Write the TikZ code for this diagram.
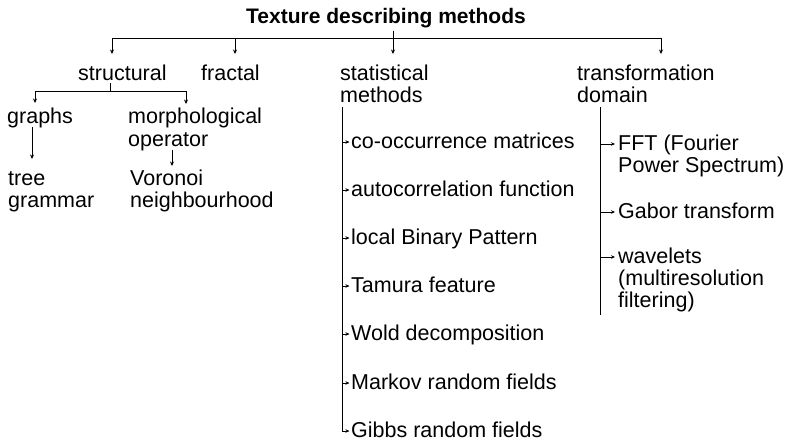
\documentclass[tikz,border=0pt]{standalone}
\usepackage{fontspec}
\setmainfont{Liberation Sans}
\usetikzlibrary{arrows.meta,calc}
\begin{document}
\begin{tikzpicture}[x=1pt,y=-1pt,
  lbl/.style={anchor=base west,inner sep=0pt,text height=12pt,text depth=0pt,font=\fontsize{21.5}{24}\selectfont},
  ttl/.style={anchor=base,inner sep=0pt,font=\fontsize{21}{24}\selectfont\bfseries},
  conn/.style={line width=0.8pt},
  arr/.style={line width=0.8pt,-{Stealth[length=4.5pt,width=4pt]}},
  tick/.style={line width=0.7pt,-{Stealth[length=4pt,width=3.5pt]}}]
\useasboundingbox (0,0) rectangle (787,442);
% title
\node[ttl] (title) at (386,23) {Texture describing methods};
% level 1
\node[lbl] (struct) at (78,80) {structural};
\node[lbl] (fract) at (201,80) {fractal};
\node[lbl] (stat) at (340,80) {statistical};
\node[lbl] (stat2) at (340,102) {methods};
\node[lbl] (trans) at (577,80) {transformation};
\node[lbl] (trans2) at (577,102) {domain};
% structural children
\node[lbl] (graphs) at (7,123) {graphs};
\node[lbl] (morph) at (128,123) {morphological};
\node[lbl] (morph2) at (128,146) {operator};
\node[lbl] (tree) at (8,185) {tree};
\node[lbl] (tree2) at (8,207) {grammar};
\node[lbl] (voro) at (130,185) {Voronoi};
\node[lbl] (voro2) at (130,207) {neighbourhood};
% statistical items
\node[lbl] (s1) at (351,148) {co-occurrence matrices};
\node[lbl] (s2) at (351,196) {autocorrelation function};
\node[lbl] (s3) at (351,244) {local Binary Pattern};
\node[lbl] (s4) at (351,292) {Tamura feature};
\node[lbl] (s5) at (351,340) {Wold decomposition};
\node[lbl] (s6) at (351,389) {Markov random fields};
\node[lbl] (s7) at (351,437) {Gibbs random fields};
% transformation items
\node[lbl] (t1) at (618,150) {FFT (Fourier};
\node[lbl] (t1b) at (618,172) {Power Spectrum)};
\node[lbl] (t2) at (618,218) {Gabor transform};
\node[lbl] (t3) at (618,263) {wavelets};
\node[lbl] (t3b) at (618,285) {(multiresolution};
\node[lbl] (t3c) at (618,307) {filtering)};
% top connectors
\coordinate (tj) at (393,38);
\coordinate (hl) at (112,38);
\coordinate (hr) at (661,38);
\draw[conn] (title.south -| tj) ++(0,3) -- (tj);
\draw[line width=1pt] (hl) -- (hr);
\draw[arr] (hl) -- (112,54);
\draw[arr] (235,38) -- (235,54);
\draw[arr] (tj) -- (393,54);
\draw[arr] (hr) -- (661,54);
% structural connectors
\coordinate (sj) at (110,91);
\draw[conn] ($(struct.base west)+(32,3)$) -- (sj);
\draw[conn] (35,91) -- (186,91);
\draw[arr] (35,91) -- (35,103);
\draw[arr] (186,91) -- (186,104);
\draw[arr] ($(graphs.base west)+(25,4)$) -- ($(tree.base west)+(24,-26)$);
\draw[arr] ($(morph2.base west)+(44,4)$) -- ($(voro.base west)+(42,-19)$);
% statistical list
\coordinate (sv) at (342,107);
\draw[conn] (sv) -- (sv |- s7.west);
\foreach \n in {s1,s2,s3,s4,s5,s6,s7}
  \draw[tick,shorten >=1.5pt] (sv |- \n.west) -- (\n.west);
% transformation list
\coordinate (tv) at (600,107);
\draw[conn] (tv) -- (600,315);
\foreach \n in {t1,t2,t3}
  \draw[tick,shorten >=3pt] (tv |- \n.west) -- (\n.west);
\end{tikzpicture}
\end{document}
